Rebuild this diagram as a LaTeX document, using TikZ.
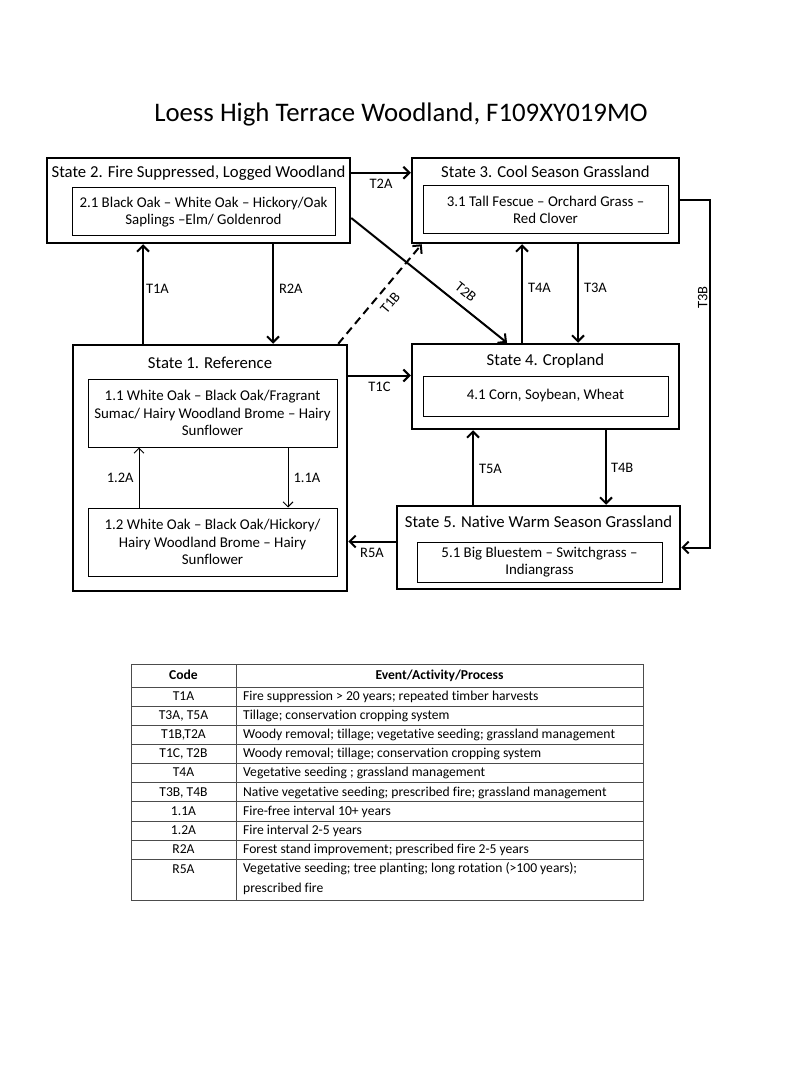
\documentclass[tikz,border=0pt]{standalone}
\usepackage{fontspec}
\setmainfont{Carlito}[Ligatures={TeX,NoCommon}]
\usetikzlibrary{arrows.meta,positioning,calc}

\begin{document}
\begin{tikzpicture}[x=1pt,y=-1pt,
    >={Straight Barb[length=6pt,width=12pt]},
    state/.style={draw,line width=2.5pt,inner sep=0pt},
    phase/.style={draw,line width=1pt,inner sep=0pt,align=center,font=\fontsize{14.9}{17.5}\selectfont},
    stname/.style={inner sep=0pt,font=\fontsize{16.7}{19}\selectfont},
    arr/.style={->,line width=2pt},
    thinarr/.style={-{Straight Barb[length=5pt,width=10pt]},line width=1pt},
    lbl/.style={font=\fontsize{14.5}{16}\selectfont,inner sep=2pt,text height=10pt,text depth=0pt},
    tline/.style={draw=black!70,line width=1pt},
    cell/.style={font=\fontsize{13.6}{19}\selectfont,inner sep=0pt,text height=9.5pt,text depth=2.5pt}]
    \useasboundingbox (0,0) rectangle (800,1067);
    \fill[white] (0,0) rectangle (800,1067);

    \node[font=\fontsize{26.8}{30}\selectfont] (title) at (401,115) {Loess High Terrace Woodland, F109XY019MO};

    % state boxes
    \node[state,minimum width=303,minimum height=85] (s2) at (198.5,200.5) {};
    \node[stname] (s2t) at ($(s2.north)+(0,16)$) {State 2. Fire Suppressed, Logged Woodland};
    \node[phase,minimum width=263,minimum height=48] (s2i) at ($(s2.center)+(5,11.5)$) {2.1 Black Oak – White Oak – Hickory/Oak\\Saplings –Elm/ Goldenrod};

    \node[state,minimum width=267,minimum height=85] (s3) at (545.5,200.5) {};
    \node[stname] (s3t) at ($(s3.north)+(0,15)$) {State 3. Cool Season Grassland};
    \node[phase,minimum width=245,minimum height=48] (s3i) at ($(s3.center)+(0,9.5)$) {3.1 Tall Fescue – Orchard Grass –\\Red Clover};

    \node[state,minimum width=274,minimum height=246] (s1) at (210,468) {};
    \node[stname] (s1t) at ($(s1.north)+(0,19)$) {State 1. Reference};
    \node[phase,minimum width=249,minimum height=68] (s11) at (212.5,413) {1.1 White Oak – Black Oak/Fragrant\\Sumac/ Hairy Woodland Brome – Hairy\\Sunflower};
    \node[phase,minimum width=249,minimum height=68] (s12) at (212.5,542) {1.2 White Oak – Black Oak/Hickory/\\Hairy Woodland Brome – Hairy\\Sunflower};

    \node[state,minimum width=267,minimum height=85] (s4) at (545.5,386.5) {};
    \node[stname] (s4t) at ($(s4.north)+(0,18)$) {State 4. Cropland};
    \node[phase,minimum width=245,minimum height=40] (s4i) at ($(s4.center)+(0,9.5)$) {4.1 Corn, Soybean, Wheat};

    \node[state,minimum width=283,minimum height=83] (s5) at (538.5,547.5) {};
    \node[stname] (s5t) at ($(s5.north)+(0,17)$) {State 5. Native Warm Season Grassland};
    \node[phase,minimum width=245,minimum height=40] (s5i) at ($(s5.center)+(1,14.5)$) {5.1 Big Bluestem – Switchgrass –\\Indiangrass};

    % transitions
    \draw[arr] (s2t -| s2.east) -- node[lbl,below=3pt] {T2A} (s2t -| s3.west);
    \draw[arr] ([yshift=-17.5pt]s2.east) -- node[lbl,sloped,above=6pt,pos=0.68] {T2B} ([xshift=-38.5pt]s4.north);
    \draw[arr,dash pattern=on 8pt off 5pt] ([xshift=-10pt]s1.north east) -- node[lbl,sloped,below=5pt,pos=0.5] {T1B} ([xshift=11pt]s3.south west);
    \draw[arr] ([xshift=-67pt]s1.north) -- node[lbl,right,pos=0.56] {T1A} ([xshift=-67pt]s1.north |- s2.south);
    \draw[arr] ([xshift=74.5pt]s2.south) -- node[lbl,right=3pt,pos=0.44] {R2A} ([xshift=74.5pt]s2.south |- s1.north);
    \draw[arr] ([xshift=-23.5pt]s4.north) -- node[lbl,right=3pt,pos=0.56] {T4A} ([xshift=-23.5pt]s4.north |- s3.south);
    \draw[arr] ([xshift=32.5pt]s3.south) -- node[lbl,right=3pt,pos=0.44] {T3A} ([xshift=32.5pt]s3.south |- s4.north);
    \draw[arr] (s4i.north -| s1.east) -- node[lbl,below=3pt] {T1C} (s4i.north -| s4.west);
    \draw[arr] ([xshift=-65.5pt]s5.north) -- node[lbl,right=3pt,pos=0.48] {T5A} ([xshift=-65.5pt]s5.north |- s4.south);
    \draw[arr] ([xshift=60.5pt]s4.south) -- node[lbl,right=2pt,pos=0.5] {T4B} ([xshift=60.5pt]s4.south |- s5.north);
    \draw[arr] (s5i.north -| s5.west) -- node[lbl,below=3pt] {R5A} (s5i.north -| s1.east);
    \draw[arr] (s3.east) -- ++(30,0) |- node[lbl,rotate=90,anchor=south,pos=0.14] {T3B} (s5.east);
    \draw[thinarr] ([xshift=-73.5pt]s12.north) -- node[lbl,left=3pt] {1.2A} ([xshift=-73.5pt]s12.north |- s11.south);
    \draw[thinarr] ([xshift=75.5pt]s11.south) -- node[lbl,right=3pt] {1.1A} ([xshift=75.5pt]s11.south |- s12.north);

    % legend table
    \draw[tline] (131,664) rectangle (643,900);
    \draw[tline] (236,664) -- (236,900);
    \node[cell,font=\bfseries\fontsize{13.6}{15}\selectfont] (hcode) at (183.5,676) {Code};
    \node[cell,font=\bfseries\fontsize{13.6}{15}\selectfont] (hevent) at (439.5,676) {Event/Activity/Process};
    \foreach \cd/\ev [count=\i from 0] in {
        T1A/{Fire suppression > 20 years; repeated  timber harvests},
        {T3A, T5A}/{Tillage; conservation cropping system},
        {T1B,T2A}/{Woody removal; tillage; vegetative  seeding; grassland management},
        {T1C, T2B}/{Woody removal; tillage; conservation cropping system},
        T4A/{Vegetative  seeding ; grassland management},
        {T3B, T4B}/{Native vegetative  seeding; prescribed fire; grassland management},
        1.1A/{Fire-free interval 10+ years},
        1.2A/{Fire interval 2-5 years},
        R2A/{Forest stand improvement;  prescribed fire 2-5 years}}
    {
        \draw[tline] (131,687.3+19.1*\i) -- (643,687.3+19.1*\i);
        \node[cell] at (183.5,697+19.1*\i) {\cd};
        \node[cell,anchor=west] at (243,697+19.1*\i) {\ev};
    }
    \draw[tline] (131,859.2) -- (643,859.2);
    \node[cell] (r5a) at (183.5,869.5) {R5A};
    \node[cell,anchor=north west,align=left,font=\fontsize{13.6}{20}\selectfont,text height=,text depth=] (r5aev) at (243,862) {Vegetative  seeding; tree  planting; long rotation (>100 years);\\prescribed fire};
\end{tikzpicture}
\end{document}
